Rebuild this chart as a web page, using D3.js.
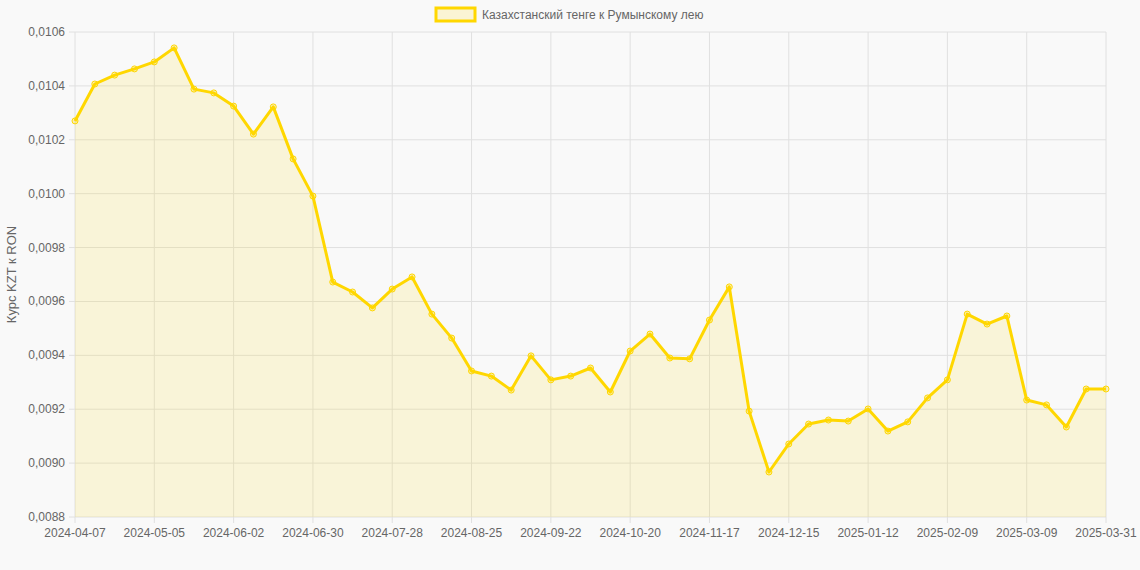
<!DOCTYPE html>
<html><head><meta charset="utf-8">
<script src="https://cdn.jsdelivr.net/npm/d3@7"></script>
<style>body{margin:0;background:#f9f9f9;font-family:"Helvetica Neue",Arial,"Liberation Sans",sans-serif}</style>
</head><body><svg id="c" width="1140" height="570"></svg>
<script>
const values=[0.010270,0.010407,0.010440,0.010463,0.010489,0.010541,0.010388,0.010374,0.010325,0.010221,0.010322,0.010129,0.009991,0.009672,0.009635,0.009576,0.009646,0.009691,0.009553,0.009464,0.009342,0.009323,0.009271,0.009398,0.009309,0.009323,0.009353,0.009264,0.009416,0.009479,0.009390,0.009387,0.009531,0.009654,0.009193,0.008967,0.009071,0.009145,0.009160,0.009156,0.009201,0.009119,0.009153,0.009242,0.009309,0.009553,0.009516,0.009546,0.009234,0.009216,0.009134,0.009275,0.009275];
const tickIndex=[0,4,8,12,16,20,24,28,32,36,40,44,48,52];
const tickLabels=["2024-04-07","2024-05-05","2024-06-02","2024-06-30","2024-07-28","2024-08-25","2024-09-22","2024-10-20","2024-11-17","2024-12-15","2025-01-12","2025-02-09","2025-03-09","2025-03-31"];
const yTicks=[0.0088,0.0090,0.0092,0.0094,0.0096,0.0098,0.0100,0.0102,0.0104,0.0106];
const seriesName="Казахстанский тенге к Румынскому лею";
const color="#FFD700";
const svg=d3.select("#c");
const L=75,R=1106,T=32,B=517;
const x=d3.scaleLinear().domain([0,values.length-1]).range([L,R]);
const y=d3.scaleLinear().domain([0.0088,0.0106]).range([B,T]);
const g=svg.append("g");
g.selectAll(".gy").data(yTicks).join("line").attr("x1",L-6).attr("x2",R).attr("y1",d=>y(d)).attr("y2",d=>y(d)).attr("stroke","#e0e0e0");
g.selectAll(".gx").data(tickIndex).join("line").attr("y1",T).attr("y2",B+6).attr("x1",d=>x(d)).attr("x2",d=>x(d)).attr("stroke","#e0e0e0");
g.selectAll(".ty").data(yTicks).join("text").attr("x",L-10).attr("y",d=>y(d)+4).attr("text-anchor","end").attr("font-size",12).attr("fill","#666").text(d=>d.toFixed(4).replace(".",","));
g.selectAll(".tx").data(tickIndex).join("text").attr("x",d=>x(d)).attr("y",B+20).attr("text-anchor","middle").attr("font-size",12).attr("fill","#666").text((d,i)=>tickLabels[i]);
svg.append("text").attr("transform",`translate(16,${(T+B)/2}) rotate(-90)`).attr("text-anchor","middle").attr("font-size",13).attr("fill","#666").text("Курс KZT к RON");
svg.append("path").datum(values).attr("d",d3.area().x((d,i)=>x(i)).y0(B).y1(d=>y(d))).attr("fill","rgba(255,215,0,0.13)");
svg.append("path").datum(values).attr("d",d3.line().x((d,i)=>x(i)).y(d=>y(d))).attr("fill","none").attr("stroke",color).attr("stroke-width",3).attr("stroke-linejoin","round");
svg.selectAll(".pt").data(values).join("circle").attr("cx",(d,i)=>x(i)).attr("cy",d=>y(d)).attr("r",3).attr("fill","rgba(255,215,0,0.25)").attr("stroke",color).attr("stroke-width",1);
svg.append("rect").attr("x",436).attr("y",8).attr("width",39).attr("height",13).attr("fill","rgba(255,215,0,0.15)").attr("stroke",color).attr("stroke-width",3);
svg.append("text").attr("x",482).attr("y",19).attr("font-size",12).attr("fill","#666").text(seriesName);
</script></body></html>
